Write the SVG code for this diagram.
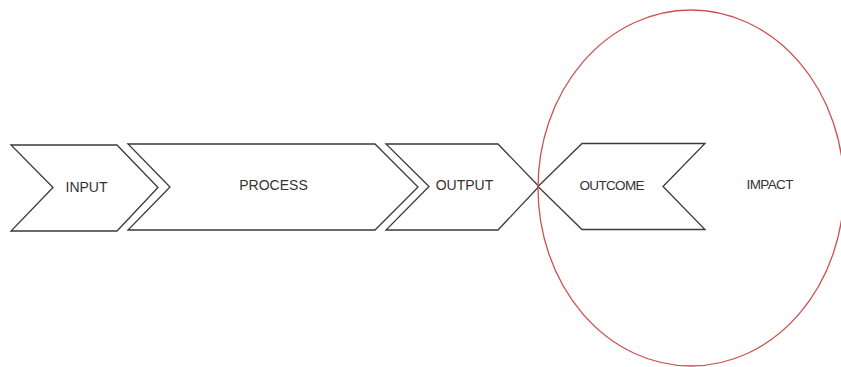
<svg xmlns="http://www.w3.org/2000/svg" width="841" height="367" viewBox="0 0 841 367">
  <style>
    .shape { fill: #ffffff; stroke: #3a3a3a; stroke-width: 1.3; stroke-linejoin: miter; }
    .label { font-family: "Liberation Sans", Arial, sans-serif; font-size: 14px; fill: #333333; text-anchor: middle; dominant-baseline: central; }
    .small { font-size: 13.5px; }
    .ring { fill: none; stroke: #d05050; stroke-width: 1.3; }
  </style>
  <rect width="841" height="367" fill="#ffffff"/>

  <g id="input">
    <polygon class="shape" points="11,145 117,145 158,187.5 117,231 11,231 53,187.5"/>
    <text class="label" x="86.5" y="187">INPUT</text>
  </g>

  <g id="process">
    <polygon class="shape" points="128,144 375,144 418,187 375,230 128,230 170,187"/>
    <text class="label" x="273.5" y="185">PROCESS</text>
  </g>

  <g id="output">
    <polygon class="shape" points="386,144 498,144 539,186.5 498,230 386,230 429,186.5"/>
    <text class="label" x="464.5" y="185">OUTPUT</text>
  </g>

  <g id="outcome">
    <polygon class="shape" points="582,143.5 705,143.5 663,186.5 705,229.5 582,229.5 538,186.5"/>
    <text class="label small" x="612" y="185.5" textLength="65" lengthAdjust="spacing">OUTCOME</text>
  </g>

  <g id="impact">
    <ellipse class="ring" cx="691" cy="188" rx="153" ry="178"/>
    <text class="label small" x="770" y="184" textLength="47" lengthAdjust="spacing">IMPACT</text>
  </g>

  <g id="connectors"></g>
</svg>
